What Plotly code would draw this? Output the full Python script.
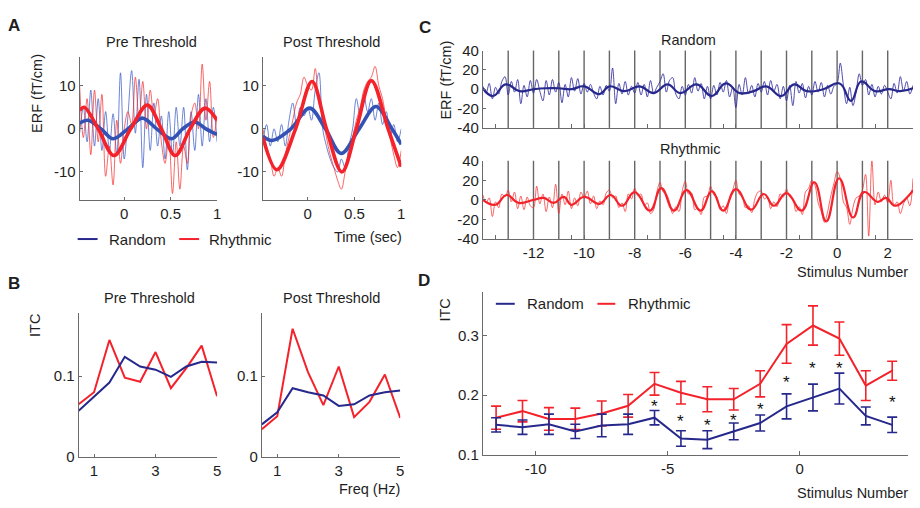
import numpy as np
import plotly.graph_objects as go

W, H = 920, 508
FONT = "Liberation Sans, Arial, Helvetica, sans-serif"
INK = "#1e1e1e"
AXIS = "#6a6a6a"
NAVY = "#27288c"
RED = "#f3222b"
A_BLUE = "#3352b3"
A_BLUE_THIN = "rgba(60,92,200,0.75)"
RED_THIN = "rgba(245,45,45,0.72)"
NAVY_THIN = "rgba(48,45,160,0.85)"

# ---------------- Panel A: ERF time courses (sec, fT/cm) ----------------
a_time = np.round(-0.48 + 0.04 * np.arange(38), 2)
a_pre_random_raw = [-1, 5, -3, 9, -4, 7, -5, 4, -5, 3.5, -6, 13, -7, 3, 13.5, -1, 11.5, -9, 8,
                    -5, 6, -4, 3, -7, 4, -6, 5, -4, 5, -9.5, 4, -5, 8, -4, 7, -3, 5, -3]
a_pre_rhythm_raw = [10, -2, 7, -6, 9, -3, 8, -11, -4, -13, 2, -8, 0, 4, 1, 12, 2, 11, 0,
                    9, 3, 7, -3, -8, -2, -15, -3, -14, -4, -8, 3, 6, 0, 15, 2, 11, -2, 3]
a_post_random_raw = [-3, 1, -4, 0, -3, 1, -4, 2, 6, 1, 5, 3, 5, 2, 9, 13, 0, -4, -7,
                     -9, -10, -7, -9, -4, 0, 7, 3, 8, 4, 7, 2, 6, 1, 4, -2, 1, -3, 0]
a_post_rhythm_raw = [0, -4, -7, -11, -9, -11, -6, -2, 2, 6, 8, 12, 10, 9, 14, 6, 3, -2, -6,
                     -9, -12, -14, -10, -6, -2, 2, 5, 9, 11, 12, 14.5, 10, 7, 2, -2, -6, -9, -5]

# low-pass filtered versions (turning points and zero crossings)
a_pre_random_fit_t = [-0.48, -0.39, -0.25, -0.12, 0.04, 0.195, 0.35, 0.51, 0.63, 0.76, 0.88, 1.0]
a_pre_random_fit = [1.3, 2.0, 0, -2.3, 0, 2.5, 0, -2.3, 0, 1.6, 0, -1.3]
a_pre_rhythm_fit_t = [-0.48, -0.43, -0.28, -0.11, 0.07, 0.25, 0.4, 0.55, 0.71, 0.87, 1.0]
a_pre_rhythm_fit = [4.3, 5.0, 0, -6.2, 0, 5.5, 0, -6.2, 0, 4.8, 2.0]
a_post_random_fit_t = [-0.48, -0.38, -0.18, 0.02, 0.19, 0.357, 0.55, 0.73, 0.9, 1.0]
a_post_random_fit = [-1.7, -2.7, 0, 4.8, 0, -5.7, 0, 5.2, 0, -3.6]
a_post_rhythm_fit_t = [-0.48, -0.33, -0.13, 0.046, 0.2, 0.365, 0.52, 0.68, 0.86, 1.0]
a_post_rhythm_fit = [-2.0, -9.5, 0, 11.0, 0, -10.0, 0, 11.2, 0, -8.8]

# ---------------- Panel B: ITC spectra ----------------
b_freq = [0.5, 1, 1.5, 2, 2.5, 3, 3.5, 4, 4.5, 5]
b_pre_rhythm = [0.065, 0.080, 0.145, 0.098, 0.093, 0.130, 0.085, 0.110, 0.138, 0.075]
b_pre_random = [0.057, 0.075, 0.092, 0.124, 0.112, 0.108, 0.099, 0.112, 0.118, 0.117]
b_post_rhythm = [0.034, 0.050, 0.159, 0.105, 0.064, 0.112, 0.049, 0.068, 0.102, 0.048]
b_post_random = [0.040, 0.055, 0.085, 0.080, 0.076, 0.063, 0.065, 0.076, 0.080, 0.082]

# ---------------- Panel C: ERF across the stimulus train ----------------
c_time = -14 + np.arange(137) / 8.0
c_random_raw = [
    3, -4, 6, -10, 2, -5, 8, 13,        # -14
    -6, 8, -3, 10, -15, 4, -8, 9,       # -13
    -4, 10, -2, -12, 9, -6, 10, -3,     # -12
    7, -14, 5, -8, 12, -2, 11, -5,      # -11
    6, -3, 5, -4, -10, 3, -6, 4,        # -10
    -2, 22, -15, 6, -5, 8, -6, 3,       # -9
    -4, 7, -6, 5, -8, 9, -4, 2,         # -8
    8, 16, -3, 9, 12, -5, -10, 3,       # -7
    -6, 5, -4, 12, -2, 6, -10, 3,       # -6
    -10, 4, -6, 7, -3, 9, -8, 2,        # -5
    -19, 5, -6, 12, -5, 4, -8, 6,       # -4
    -3, 8, -6, 9, -2, 5, -10, 3,        # -3
    -12, 4, -17, 8, -4, 6, -9, 3,       # -2
    -6, 8, -3, 7, -8, 4, -5, 3,         # -1
    6, 27, 4, -15, 2, -17, -3, 16,      # 0
    4, 10, -6, 5, -8, 3, -5, 4,         # 1
    -3, -10, 6, -4, 13, -2, 8, -5,      # 2
    4,
]
c_rhythm_raw = [
    5, -3, 2, -17, -2, -8, 6, 3,        # -14
    10, -2, 8, -9, 4, -10, 3, -6,       # -13
    -8, 14, -4, 6, -12, 3, -8, 16,      # -12
    -14, 6, -5, 9, -9, 2, -6, 8,        # -11
    2, 9, -4, 4, -9, -1, -5, 7,         # -10
    10, 2, 4, -8, -3, -12, 6, 1,        # -9
    12, 4, 6, -6, -3, -14, -10, 8,      # -8
    18, 8, 6, -2, -14, -7, -12, 9,      # -7
    19, 6, 7, -10, -8, -15, 3, 4,       # -6
    14, 5, 3, -10, -6, -14, 2, 10,      # -5
    20, 6, 4, -8, -6, -13, 1, 8,        # -4
    9, 1, 3, -9, -2, -7, 6, 3,          # -3
    11, 3, 1, -12, -7, -15, 8, 12,      # -2
    20, 15, -3, -12, -23, -12, 4, 17,   # -1
    29, 22, -2, -8, -25, -8, 2, 4,      # 0
    10, 26, -37, 40, -5, 8, -2, 5,      # 1
    -3, 20, -6, -2, -14, -4, 2, -6,     # 2
    22,
]
c_random_fit_t = [-14, -13.6, -13.1, -12.55, -12, -11.5, -11, -10.5, -10, -9.4, -9, -8.4, -7.8,
                  -7.25, -6.7, -6.2, -5.55, -4.95, -4.4, -3.85, -3.3, -2.8, -2.2, -1.7, -1.2,
                  -0.55, 0.1, 0.55, 0.95, 1.5, 2.05, 2.5, 3.0]
c_random_fit = [1, -7, 5, -2, 0, 1, 1, 0, 3, -5, 3, -2, 3, -4, 5, -4, 5, -7, 6, -4, -2, 3, -7,
                5, -2, 0, 6, -12, 8, -2, 0, -2, 1]
c_rhythm_fit_t = [-14, -13.5, -13.06, -12.6, -12, -11.6, -11.2, -10.8, -10.5, -10.0, -9.4, -8.95,
                  -8.5, -8.0, -7.4, -6.95, -6.45, -5.95, -5.4, -4.95, -4.5, -4.0, -3.4, -2.9,
                  -2.5, -2.0, -1.4, -0.9, -0.43, 0.08, 0.63, 1.06, 1.6, 1.93, 2.3, 2.85, 3.0]
c_rhythm_fit = [0, -5, 5, -3, 0, 2, -3, 3, -5, 3, -4, 5, -6, 8, -11, 12, -11, 10, -11, 9, -11,
                11, -10, 6, -6, 7, -11, 18, -22, 22, -18, 8, -2, 2, -6, 5, 10]
c_stimuli = list(range(-13, 3))

# ---------------- Panel D: ITC per stimulus ----------------
d_stim = [-11.5, -10.5, -9.5, -8.5, -7.5, -6.5, -5.5, -4.5, -3.5, -2.5, -1.5, -0.5, 0.5, 1.5, 2.5, 3.5]
d_rhythm = [0.162, 0.173, 0.160, 0.160, 0.169, 0.182, 0.219, 0.204, 0.193, 0.193, 0.219, 0.286,
            0.317, 0.295, 0.216, 0.241]
d_rhythm_err = [0.0195, 0.018, 0.019, 0.018, 0.021, 0.019, 0.019, 0.019, 0.021, 0.018, 0.022,
                0.0325, 0.033, 0.028, 0.025, 0.016]
d_random = [0.150, 0.146, 0.151, 0.139, 0.149, 0.151, 0.162, 0.127, 0.125, 0.139, 0.153, 0.181,
            0.196, 0.211, 0.165, 0.150]
d_random_err = [0.012, 0.012, 0.017, 0.012, 0.019, 0.017, 0.012, 0.013, 0.015, 0.014, 0.0135,
                0.021, 0.0225, 0.026, 0.015, 0.013]
d_significant = [-5.5, -4.5, -3.5, -2.5, -1.5, -0.5, 0.5, 1.5, 3.5]


# ---------------- helpers ----------------
def xd(x0, x1):
    return [x0 / W, x1 / W]


def yd(y0, y1):
    return [1 - y1 / H, 1 - y0 / H]


def fmt(v):
    return "%g" % v


def axis(domain, rng, tickvals, anchor, ticktext=None, **kw):
    d = dict(domain=domain, range=rng, anchor=anchor, showline=True, linecolor=AXIS,
             linewidth=1, ticks="inside", ticklen=3, tickcolor=AXIS, tickwidth=1,
             showgrid=False, zeroline=False, tickmode="array", tickvals=list(tickvals),
             ticktext=ticktext if ticktext is not None else [fmt(v) for v in tickvals],
             tickfont=dict(family=FONT, size=15, color=INK), fixedrange=True)
    d.update(kw)
    return d


def line(x, y, color, width, xa, ya, shape="spline", smoothing=1.0):
    ln = dict(color=color, width=width, shape=shape)
    if shape == "spline":
        ln["smoothing"] = smoothing
    return go.Scatter(x=x, y=y, mode="lines", xaxis=xa, yaxis=ya, showlegend=False,
                      hoverinfo="skip", line=ln)


fig = go.Figure()

# Panel A
for xa, ya, rr, hr, rf_t, rf, hf_t, hf in [
    ("x", "y", a_pre_random_raw, a_pre_rhythm_raw, a_pre_random_fit_t, a_pre_random_fit,
     a_pre_rhythm_fit_t, a_pre_rhythm_fit),
    ("x2", "y2", a_post_random_raw, a_post_rhythm_raw, a_post_random_fit_t, a_post_random_fit,
     a_post_rhythm_fit_t, a_post_rhythm_fit),
]:
    fig.add_trace(line(a_time, rr, A_BLUE_THIN, 1, xa, ya))
    fig.add_trace(line(a_time, hr, RED_THIN, 1, xa, ya))
    fig.add_trace(line(rf_t, rf, A_BLUE, 3.6, xa, ya))
    fig.add_trace(line(hf_t, hf, RED, 3.6, xa, ya))

# Panel B
for xa, ya, hr, rr in [("x3", "y3", b_pre_rhythm, b_pre_random),
                       ("x4", "y4", b_post_rhythm, b_post_random)]:
    fig.add_trace(line(b_freq, hr, RED, 2, xa, ya, shape="linear"))
    fig.add_trace(line(b_freq, rr, NAVY, 2, xa, ya, shape="linear"))

# Panel C
fig.add_trace(line(c_time, c_random_raw, NAVY_THIN, 1, "x5", "y5"))
fig.add_trace(line(c_random_fit_t, c_random_fit, NAVY, 2.2, "x5", "y5", smoothing=1.3))
fig.add_trace(line(c_time, c_rhythm_raw, RED_THIN, 1, "x6", "y6"))
fig.add_trace(line(c_rhythm_fit_t, c_rhythm_fit, RED, 2.2, "x6", "y6", smoothing=1.3))

# Panel D
fig.add_trace(go.Scatter(x=d_stim, y=d_rhythm, mode="lines", xaxis="x7", yaxis="y7",
                         showlegend=False, hoverinfo="skip", line=dict(color=RED, width=2),
                         error_y=dict(type="data", array=d_rhythm_err, visible=True,
                                      color=RED, thickness=1.6, width=5)))
fig.add_trace(go.Scatter(x=d_stim, y=d_random, mode="lines", xaxis="x7", yaxis="y7",
                         showlegend=False, hoverinfo="skip", line=dict(color=NAVY, width=2),
                         error_y=dict(type="data", array=d_random_err, visible=True,
                                      color=NAVY, thickness=1.6, width=5)))

# ---------------- axes ----------------
c_minor = list(np.arange(-13.5, 3, 3))
c_major = list(range(-12, 3, 2))
c_ticks = sorted(c_minor + c_major)
c_text = ["" if v in c_minor else fmt(v) for v in c_ticks]

fig.update_layout(
    xaxis=axis(xd(80, 218), [-0.48, 1.0], [0, 0.5, 1], "y"),
    yaxis=axis(yd(50, 198), [-16.6, 16.6], [-10, 0, 10], "x"),
    xaxis2=axis(xd(264, 403), [-0.48, 1.0], [0, 0.5, 1], "y2"),
    yaxis2=axis(yd(50, 198), [-16.6, 16.6], [-10, 0, 10], "x2"),
    xaxis3=axis(xd(79, 218), [0.5, 5], [1, 3, 5], "y3"),
    yaxis3=axis(yd(315, 463), [0, 0.178], [0, 0.1], "x3"),
    xaxis4=axis(xd(263, 402), [0.5, 5], [1, 3, 5], "y4"),
    yaxis4=axis(yd(315, 463), [0, 0.178], [0, 0.1], "x4"),
    xaxis5=axis(xd(485, 917), [-14, 3], c_ticks, "y5", ticktext=c_text,
                showticklabels=False, ticklen=4),
    yaxis5=axis(yd(43, 123), [-40, 40], [-40, -20, 0, 20, 40], "x5"),
    xaxis6=axis(xd(485, 917), [-14, 3], c_ticks, "y6", ticktext=c_text, ticklen=4),
    yaxis6=axis(yd(157, 238), [-40, 40], [-40, -20, 0, 20, 40], "x6"),
    xaxis7=axis(xd(485, 912), [-12, 4.1], [-10, -5, 0], "y7", ticklen=4),
    yaxis7=axis(yd(293, 461), [0.1, 0.373], [0.1, 0.2, 0.3], "x7", ticklen=4),
)

# stimulus onsets
shapes = []
for xa, ya in [("x5", "y5"), ("x6", "y6")]:
    for s in c_stimuli:
        shapes.append(dict(type="line", xref=xa, yref=ya + " domain", x0=s, x1=s, y0=0, y1=1,
                           line=dict(color="#666666", width=1.4), layer="below"))

# legend samples
for x0, x1, y, col in [(78, 98, 238, NAVY), (180, 200, 238, RED),
                       (498, 517, 305, NAVY), (600, 618, 305, RED)]:
    shapes.append(dict(type="line", xref="paper", yref="paper", x0=x0 / W, x1=x1 / W,
                       y0=1 - y / H, y1=1 - y / H, line=dict(color=col, width=2)))


def txt(x, y, s, size=14.5, xanchor="center", angle=0):
    return dict(x=x / W, y=1 - y / H, xref="paper", yref="paper", text=s, showarrow=False,
                xanchor=xanchor, yanchor="middle", textangle=angle,
                font=dict(family=FONT, size=size, color=INK))


ann = [
    txt(14, 17, "<b>A</b>", 17), txt(14, 284, "<b>B</b>", 17),
    txt(427, 19, "<b>C</b>", 17), txt(426, 281, "<b>D</b>", 17),
    txt(152, 34, "Pre Threshold"), txt(333, 34, "Post Threshold"),
    txt(150, 299, "Pre Threshold"), txt(333, 299, "Post Threshold"),
    txt(692, 32, "Random"), txt(693, 145, "Rhythmic"),
    txt(37, 87, "ERF (fT/cm)", angle=-90), txt(35, 327, "ITC", angle=-90),
    txt(447, 74, "ERF (fT/cm)", angle=-90), txt(447, 312, "ITC", angle=-90),
    txt(406, 236, "Time (sec)", xanchor="right"), txt(404, 497, "Freq (Hz)", xanchor="right"),
    txt(914, 272, "Stimulus Number", xanchor="right"),
    txt(914, 501, "Stimulus Number", xanchor="right"),
    txt(107, 238, "Random", 15, xanchor="left"), txt(208, 238, "Rhythmic", 15, xanchor="left"),
    txt(527, 305, "Random", 15, xanchor="left"), txt(629, 305, "Rhythmic", 15, xanchor="left"),
]

# significance markers between the two curves
for s in d_significant:
    i = d_stim.index(s)
    mid = ((d_rhythm[i] - d_rhythm_err[i]) + (d_random[i] + d_random_err[i])) / 2
    ann.append(dict(x=s, y=mid, xref="x7", yref="y7", text="*", showarrow=False,
                    yshift=-4, font=dict(family=FONT, size=17, color="#111")))

fig.update_layout(
    width=W, height=H, margin=dict(l=0, r=0, t=0, b=0),
    paper_bgcolor="white", plot_bgcolor="rgba(0,0,0,0)",
    font=dict(family=FONT, color=INK), showlegend=False,
    shapes=shapes, annotations=ann,
)

fig.write_html("out.html", config={"displayModeBar": False})
